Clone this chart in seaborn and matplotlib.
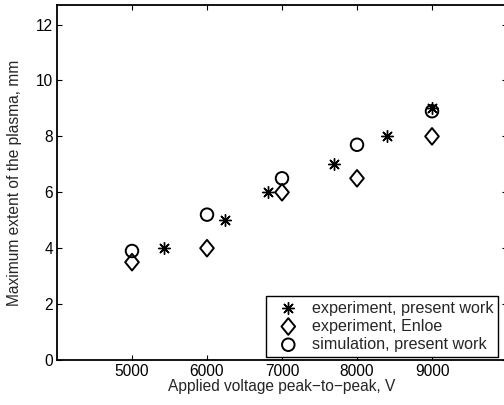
import matplotlib
matplotlib.use("Agg")
import matplotlib.pyplot as plt
import seaborn as sns
import pandas as pd
from matplotlib.path import Path

# Data
exp_present_x = [5420, 6240, 6810, 7690, 8400, 9000]
exp_present_y = [4.0, 5.0, 6.0, 7.0, 8.0, 9.0]
exp_enloe_x = [5000, 6000, 7000, 8000, 9000]
exp_enloe_y = [3.5, 4.0, 6.0, 6.5, 8.0]
sim_present_x = [5000, 6000, 7000, 8000, 9000]
sim_present_y = [3.9, 5.2, 6.5, 7.7, 8.9]
labels = ["experiment, present work", "experiment, Enloe", "simulation, present work"]
xticks = [5000, 6000, 7000, 8000, 9000]
yticks = [0, 2, 4, 6, 8, 10, 12]

sns.set_theme(style="ticks")
plt.rcParams['font.family'] = ['Liberation Sans', 'DejaVu Sans']

FS = 11.2
LFS = 11.6

fig = plt.figure(figsize=(5.04, 4.05), dpi=100)
ax = fig.add_axes([57/504, 1 - 360/405, 450/504, 355/405])

diamond = Path([(0, 1), (0.82, 0), (0, -1), (-0.82, 0), (0, 1)],
               [Path.MOVETO, Path.LINETO, Path.LINETO, Path.LINETO, Path.CLOSEPOLY])

df1 = pd.DataFrame({"x": exp_present_x, "y": exp_present_y})
df2 = pd.DataFrame({"x": exp_enloe_x, "y": exp_enloe_y})
df3 = pd.DataFrame({"x": sim_present_x, "y": sim_present_y})

sns.scatterplot(data=df1, x="x", y="y", ax=ax, marker=(8, 2, 0), s=8.5**2,
                color="black", linewidth=1.0, label=labels[0])
sns.scatterplot(data=df2, x="x", y="y", ax=ax, marker=diamond, s=12.0**2,
                color="black", linewidth=1.4, label=labels[1])
sns.scatterplot(data=df3, x="x", y="y", ax=ax, marker="o", s=9.0**2,
                color="black", linewidth=1.4, label=labels[2])

for coll in ax.collections[1:]:
    coll.set_facecolor("none")
    coll.set_edgecolor("black")
ax.collections[0].set_edgecolor("black")

ax.set_xlim(4000, 10000)
ax.set_ylim(0, 12.7)
ax.set_xticks(xticks)
ax.set_yticks(yticks)
ax.tick_params(direction="in", length=3.5, width=0.8, top=True, right=True,
               labelsize=FS, colors="black", pad=3)
for sp in ax.spines.values():
    sp.set_visible(True)
    sp.set_linewidth(1.3)
    sp.set_color("black")

ax.set_xlabel("Applied voltage peak\u2212to\u2212peak, V", fontsize=FS, labelpad=0)
ax.set_ylabel("Maximum extent of the plasma, mm", fontsize=FS, labelpad=10)

leg = ax.legend(loc="lower right", bbox_to_anchor=(0.98, 0.009),
                bbox_transform=ax.transAxes, borderaxespad=0, fontsize=LFS,
                frameon=True, fancybox=False, framealpha=1, edgecolor="black",
                handletextpad=0.35, labelspacing=0.2, borderpad=0.3,
                handlelength=2.2)
leg.get_frame().set_linewidth(1.0)

fig.savefig("out.png", dpi=100)
